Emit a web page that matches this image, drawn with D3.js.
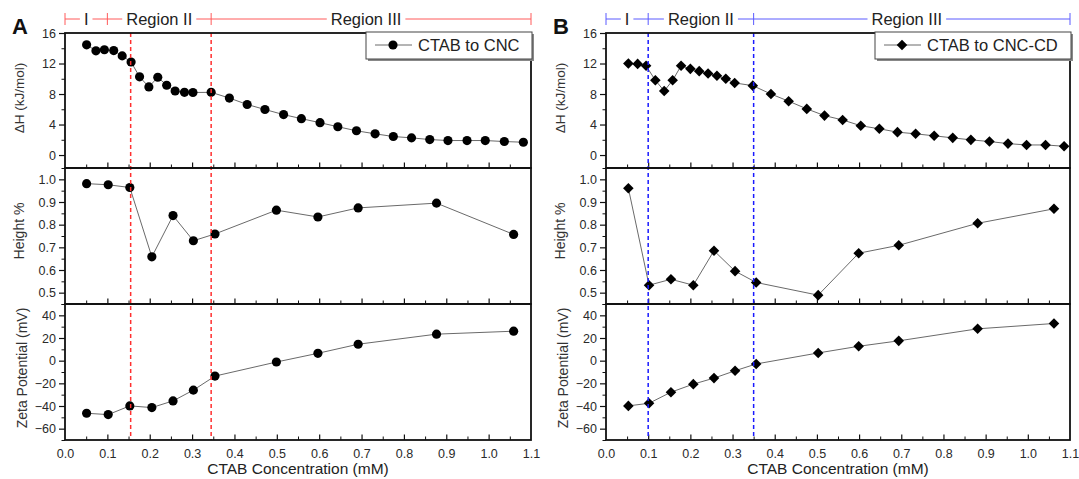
<!DOCTYPE html>
<html>
<head>
<meta charset="utf-8">
<script src="https://cdn.jsdelivr.net/npm/d3@7"></script>
<style>
body { margin: 0; background: #fff; }
text { font-family: "Liberation Sans", Arial, sans-serif; }
</style>
</head>
<body>
<div id="chart"></div>
<script>
// ---- data ----
// panel A : CTAB titrated into CNC
var aHeatX = [0.051, 0.073, 0.093, 0.115, 0.135, 0.156, 0.176, 0.198, 0.219, 0.240, 0.260, 0.282, 0.302,
              0.345, 0.388, 0.430, 0.472, 0.516, 0.558, 0.602, 0.644, 0.688, 0.732, 0.775, 0.818, 0.861,
              0.904, 0.949, 0.992, 1.037, 1.082];
var aHeatY = [14.45, 13.66, 13.8, 13.7, 13.0, 12.2, 10.25, 8.93, 10.2, 9.15, 8.4, 8.22, 8.2,
              8.22, 7.47, 6.63, 5.97, 5.3, 4.77, 4.24, 3.71, 3.18, 2.78, 2.43, 2.25, 2.03,
              1.9, 1.9, 1.9, 1.77, 1.68];
var aConcX = [0.051, 0.102, 0.153, 0.205, 0.255, 0.303, 0.354, 0.499, 0.597, 0.692, 0.877, 1.059];
var aHeight = [0.981, 0.976, 0.964, 0.658, 0.840, 0.729, 0.759, 0.864, 0.834, 0.874, 0.895, 0.757];
var aZeta = [-46.4, -47.6, -39.9, -41.4, -35.5, -26.0, -13.6, -1.2, 6.5, 14.5, 23.4, 26.0];
var aRegionEdges = [0, 0.1, 0.345, 1.1];
var aDashed = [0.155, 0.345];

// panel B : CTAB titrated into CNC-CD
var bHeatX = [0.053, 0.075, 0.095, 0.117, 0.138, 0.158, 0.178, 0.200, 0.221, 0.242, 0.263, 0.284, 0.305,
              0.348, 0.391, 0.433, 0.476, 0.518, 0.561, 0.604, 0.648, 0.691, 0.734, 0.778, 0.822, 0.865,
              0.909, 0.953, 0.997, 1.042, 1.086];
var bHeatY = [12.0, 11.95, 11.7, 9.8, 8.4, 9.8, 11.7, 11.3, 11.0, 10.7, 10.4, 10.0, 9.45,
              9.1, 8.0, 7.06, 6.05, 5.17, 4.6, 3.84, 3.44, 3.0, 2.78, 2.52, 2.25, 1.99,
              1.77, 1.5, 1.32, 1.32, 1.15];
var bConcX = [0.053, 0.102, 0.154, 0.207, 0.256, 0.306, 0.356, 0.503, 0.599, 0.694, 0.881, 1.062];
var bHeight = [0.961, 0.533, 0.559, 0.533, 0.685, 0.595, 0.545, 0.489, 0.674, 0.709, 0.806, 0.870];
var bZeta = [-39.9, -37.6, -27.8, -20.7, -15.4, -8.9, -2.9, 6.8, 12.7, 17.5, 28.1, 32.8];
var bRegionEdges = [0, 0.1, 0.35, 1.1];
var bDashed = [0.1, 0.35];

// tick labels / axis text
var regionNames = ["I", "Region II", "Region III"];
var xTicks = [0, 0.1, 0.2, 0.3, 0.4, 0.5, 0.6, 0.7, 0.8, 0.9, 1.0, 1.1];
var heatTicks = [0, 4, 8, 12, 16];
var heightTicks = [0.5, 0.6, 0.7, 0.8, 0.9, 1.0];
var zetaTicks = [-60, -40, -20, 0, 20, 40];
var yTitles = ["\u0394H (kJ/mol)", "Height %", "Zeta Potential (mV)"];
var xTitle = "CTAB Concentration (mM)";

// ---- layout ----
var svg = d3.select("#chart").append("svg")
    .attr("width", 1079)
    .attr("height", 479);

var rows = [
  {top: 33, bottom: 168, domain: [-1.7, 16], ticks: heatTicks, minor: 2, fmt: d3.format("d"), titleY: 98},
  {top: 168, bottom: 304, domain: [0.45, 1.05], ticks: heightTicks, minor: 0.05, fmt: d3.format(".1f"), titleY: 231},
  {top: 304, bottom: 440, domain: [-70, 50], ticks: zetaTicks, minor: 10, fmt: d3.format("d"), titleY: 368}
];

// diamond marker for d3.symbol
var squareDiamond = {
  draw: function(ctx, size) {
    var h = Math.sqrt(size / 2);
    ctx.moveTo(0, -h); ctx.lineTo(h, 0); ctx.lineTo(0, h); ctx.lineTo(-h, 0); ctx.closePath();
  }
};

drawFigure({
  left: 65, right: 531, letter: "A", color: "#ff5a5a", dashColor: "#ff3030",
  edges: aRegionEdges, dashed: aDashed,
  series: [[aHeatX, aHeatY], [aConcX, aHeight], [aConcX, aZeta]],
  symbol: d3.symbolCircle, symSize: 66,
  legend: "CTAB to CNC", legendX: 366
});
drawFigure({
  left: 606, right: 1070, letter: "B", color: "#5a5aff", dashColor: "#1a1aff",
  edges: bRegionEdges, dashed: bDashed,
  series: [[bHeatX, bHeatY], [bConcX, bHeight], [bConcX, bZeta]],
  symbol: squareDiamond, symSize: 56,
  legend: "CTAB to CNC-CD", legendX: 875
});

function drawFigure(o) {
  var g = svg.append("g");
  var x = d3.scaleLinear().domain([0, 1.1]).range([o.left, o.right]);

  // region header
  var hy = 19;
  var head = g.append("g");
  head.append("line")
      .attr("x1", x(0)).attr("x2", x(1.1)).attr("y1", hy).attr("y2", hy)
      .attr("stroke", o.color).attr("stroke-width", 1);
  head.selectAll(".cap").data(o.edges).enter().append("line")
      .attr("x1", function(d) { return x(d); }).attr("x2", function(d) { return x(d); })
      .attr("y1", hy - 6).attr("y2", hy + 6)
      .attr("stroke", o.color).attr("stroke-width", 1);
  regionNames.forEach(function(name, i) {
    var cx = (x(o.edges[i]) + x(o.edges[i + 1])) / 2;
    if (i == 2) cx -= 5;
    var t = head.append("text")
        .attr("x", cx).attr("y", hy + 6)
        .attr("text-anchor", "middle")
        .style("font-size", "16.5px").style("fill", "#222")
        .text(name);
    var bb = t.node().getBBox();
    head.insert("rect", "text")
        .attr("x", bb.x - 4).attr("y", hy - 2).attr("width", bb.width + 8).attr("height", 4)
        .attr("fill", "#fff");
  });

  // panel letter
  g.append("text")
      .attr("x", o.left - 53).attr("y", 34)
      .style("font-size", "22px").style("font-weight", "bold").style("fill", "#111")
      .text(o.letter);

  rows.forEach(function(r, i) {
    var y = d3.scaleLinear().domain(r.domain).range([r.bottom, r.top]);
    var minorVals = d3.range(r.ticks[0] - r.minor, r.domain[1] + 1e-9, r.minor * 2)
        .filter(function(v) { return v >= r.domain[0] && v <= r.domain[1]; });

    // left axis: major + minor ticks, outward
    var ya = g.append("g").attr("transform", "translate(" + o.left + ",0)")
        .call(d3.axisLeft(y).tickValues(r.ticks).tickSize(6).tickPadding(3).tickFormat(r.fmt));
    ya.select(".domain").remove();
    ya.selectAll("text").style("font-size", "12.5px").style("fill", "#2a2a2a");
    ya.selectAll("line").attr("stroke", "#111").attr("stroke-width", 1.2);
    var ym = g.append("g").attr("transform", "translate(" + o.left + ",0)")
        .call(d3.axisLeft(y).tickValues(minorVals).tickSize(3.5).tickFormat(""));
    ym.select(".domain").remove();
    ym.selectAll("line").attr("stroke", "#111").attr("stroke-width", 1);

    // bottom axis ticks pointing inward
    var xa = g.append("g").attr("transform", "translate(0," + r.bottom + ")")
        .call(d3.axisBottom(x).tickValues(xTicks.slice(1, -1)).tickSize(-5.5).tickFormat(""));
    xa.select(".domain").remove();
    xa.selectAll("line").attr("stroke", "#111").attr("stroke-width", 1.2);
    var xm = g.append("g").attr("transform", "translate(0," + r.bottom + ")")
        .call(d3.axisBottom(x).tickValues(d3.range(0.05, 1.1, 0.1)).tickSize(-3.5).tickFormat(""));
    xm.select(".domain").remove();
    xm.selectAll("line").attr("stroke", "#111").attr("stroke-width", 1);

    if (i == 2) {
      var xl = g.append("g").attr("transform", "translate(0," + r.bottom + ")")
          .call(d3.axisBottom(x).tickValues(xTicks).tickSize(0).tickPadding(9).tickFormat(d3.format(".1f")));
      xl.select(".domain").remove();
      xl.selectAll("text").style("font-size", "12.5px").style("fill", "#2a2a2a");
      g.append("text")
          .attr("x", (o.left + o.right) / 2).attr("y", 474)
          .attr("text-anchor", "middle")
          .style("font-size", "15.5px").style("fill", "#222")
          .text(xTitle);
    }

    // y title
    g.append("text")
        .attr("transform", "translate(" + (o.left - (i == 2 ? 43 : 46)) + "," + r.titleY + ") rotate(-90)")
        .attr("text-anchor", "middle")
        .attr("dy", "0.35em")
        .style("font-size", i == 0 ? "13.5px" : "14px").style("fill", "#333")
        .text(yTitles[i]);

    // data line + markers
    var xs = o.series[i][0], ys = o.series[i][1];
    var pts = xs.map(function(v, k) { return [v, ys[k]]; });
    g.append("path")
        .datum(pts)
        .attr("fill", "none")
        .attr("stroke", "#6a6a6a")
        .attr("stroke-width", 1)
        .attr("d", d3.line().x(function(d) { return x(d[0]); }).y(function(d) { return y(d[1]); }));
    g.selectAll(".pt" + i).data(pts).enter().append("path")
        .attr("class", "pt" + i)
        .attr("transform", function(d) { return "translate(" + x(d[0]) + "," + y(d[1]) + ")"; })
        .attr("d", d3.symbol().type(o.symbol).size(o.symSize))
        .attr("fill", "#000");
  });

  // dashed region lines
  g.selectAll(".dash").data(o.dashed).enter().append("line")
      .attr("x1", function(d) { return x(d); }).attr("x2", function(d) { return x(d); })
      .attr("y1", rows[0].top).attr("y2", rows[2].bottom)
      .attr("stroke", o.dashColor).attr("stroke-width", 1.5)
      .attr("stroke-dasharray", "4,3");

  // frames
  rows.forEach(function(r) {
    g.append("rect")
        .attr("x", o.left).attr("y", r.top)
        .attr("width", o.right - o.left).attr("height", r.bottom - r.top)
        .attr("fill", "none").attr("stroke", "#111").attr("stroke-width", 1.8);
  });

  // legend
  var lx = o.legendX, lw = o.right + 1 - lx, ly = 32, lh = 27;
  var leg = g.append("g");
  leg.append("rect").attr("x", lx + 2).attr("y", ly + 2).attr("width", lw).attr("height", lh).attr("fill", "#888");
  leg.append("rect").attr("x", lx).attr("y", ly).attr("width", lw).attr("height", lh)
      .attr("fill", "#fff").attr("stroke", "#444").attr("stroke-width", 1);
  leg.append("line")
      .attr("x1", lx + 9).attr("x2", lx + 46).attr("y1", ly + 13).attr("y2", ly + 13)
      .attr("stroke", "#6a6a6a").attr("stroke-width", 1);
  leg.append("path")
      .attr("transform", "translate(" + (lx + 27) + "," + (ly + 13) + ")")
      .attr("d", d3.symbol().type(o.symbol).size(o.symSize))
      .attr("fill", "#000");
  leg.append("text")
      .attr("x", lx + 52).attr("y", ly + 19)
      .style("font-size", "16.5px").style("fill", "#222")
      .text(o.legend);
}
</script>
</body>
</html>
